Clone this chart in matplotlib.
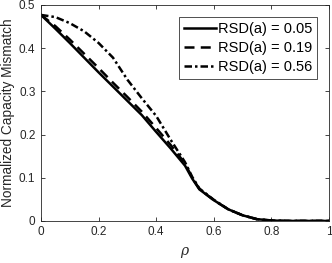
import numpy as np
import matplotlib
matplotlib.use("Agg")
import matplotlib.pyplot as plt

plt.rcParams['font.family'] = ['Liberation Sans', 'DejaVu Sans']
plt.rcParams['mathtext.fontset'] = 'dejavuserif'

# valores
rho = [0, 0.05, 0.1, 0.15, 0.2, 0.25, 0.3, 0.35, 0.4, 0.45, 0.5, 0.525,
       0.55, 0.6, 0.65, 0.7, 0.75, 0.8, 0.85, 0.9, 0.95, 1.0]
rsd_005 = [0.477, 0.445, 0.412, 0.378, 0.344, 0.311, 0.278, 0.245, 0.206, 0.168,
           0.128, 0.098, 0.073, 0.048, 0.027, 0.013, 0.004, 0.001, 0, 0, 0, 0]
rsd_019 = [0.477, 0.451, 0.420, 0.387, 0.354, 0.320, 0.287, 0.253, 0.215, 0.176,
           0.133, 0.100, 0.074, 0.048, 0.027, 0.013, 0.004, 0.001, 0, 0, 0, 0]
rsd_056 = [0.477, 0.472, 0.458, 0.439, 0.412, 0.378, 0.327, 0.284, 0.243, 0.188,
           0.136, 0.102, 0.075, 0.049, 0.027, 0.013, 0.004, 0.001, 0, 0, 0, 0]
etiquetas = ['RSD(a) = 0.05', 'RSD(a) = 0.19', 'RSD(a) = 0.56']

gris = (0.15, 0.15, 0.15)

fig = plt.figure(figsize=(3.32, 2.63), dpi=100)
ax = fig.add_axes([0.1235, 0.16, 0.8675, 0.821])

ax.plot(rho, rsd_005, color='black', linestyle='-', linewidth=1.8, label=etiquetas[0])
ax.plot(rho, rsd_019, color='black', linestyle=(0, (4, 2.5)), linewidth=1.8, label=etiquetas[1])
ax.plot(rho, rsd_056, color='black', linestyle=(0, (3, 1.2, 1, 1.2)), linewidth=1.8, label=etiquetas[2])

ax.set_xlim(0, 1)
ax.set_ylim(0, 0.5)
ax.set_xticks([0, 0.2, 0.4, 0.6, 0.8, 1])
ax.set_xticklabels(['0', '0.2', '0.4', '0.6', '0.8', '1'])
ax.set_yticks([0, 0.1, 0.2, 0.3, 0.4, 0.5])
ax.set_yticklabels(['0', '0.1', '0.2', '0.3', '0.4', '0.5'])

ax.tick_params(direction='in', length=3, width=0.6, colors=gris, labelsize=8.5,
               top=True, right=True, pad=4)
for s in ax.spines.values():
    s.set_color(gris)
    s.set_linewidth(0.6)

ax.set_xlabel(r'$\rho$', fontsize=10, color=gris, labelpad=5)
ax.set_ylabel('Normalized Capacity Mismatch', fontsize=9.8, color=gris, labelpad=3)

leg = ax.legend(loc='upper right', fontsize=10.5, frameon=True, fancybox=False,
                edgecolor='black', handlelength=2.2, handletextpad=0.1,
                borderpad=0.35, labelspacing=0.35, borderaxespad=0.8)
leg.get_frame().set_linewidth(0.6)

plt.savefig("out.png", dpi=100)
